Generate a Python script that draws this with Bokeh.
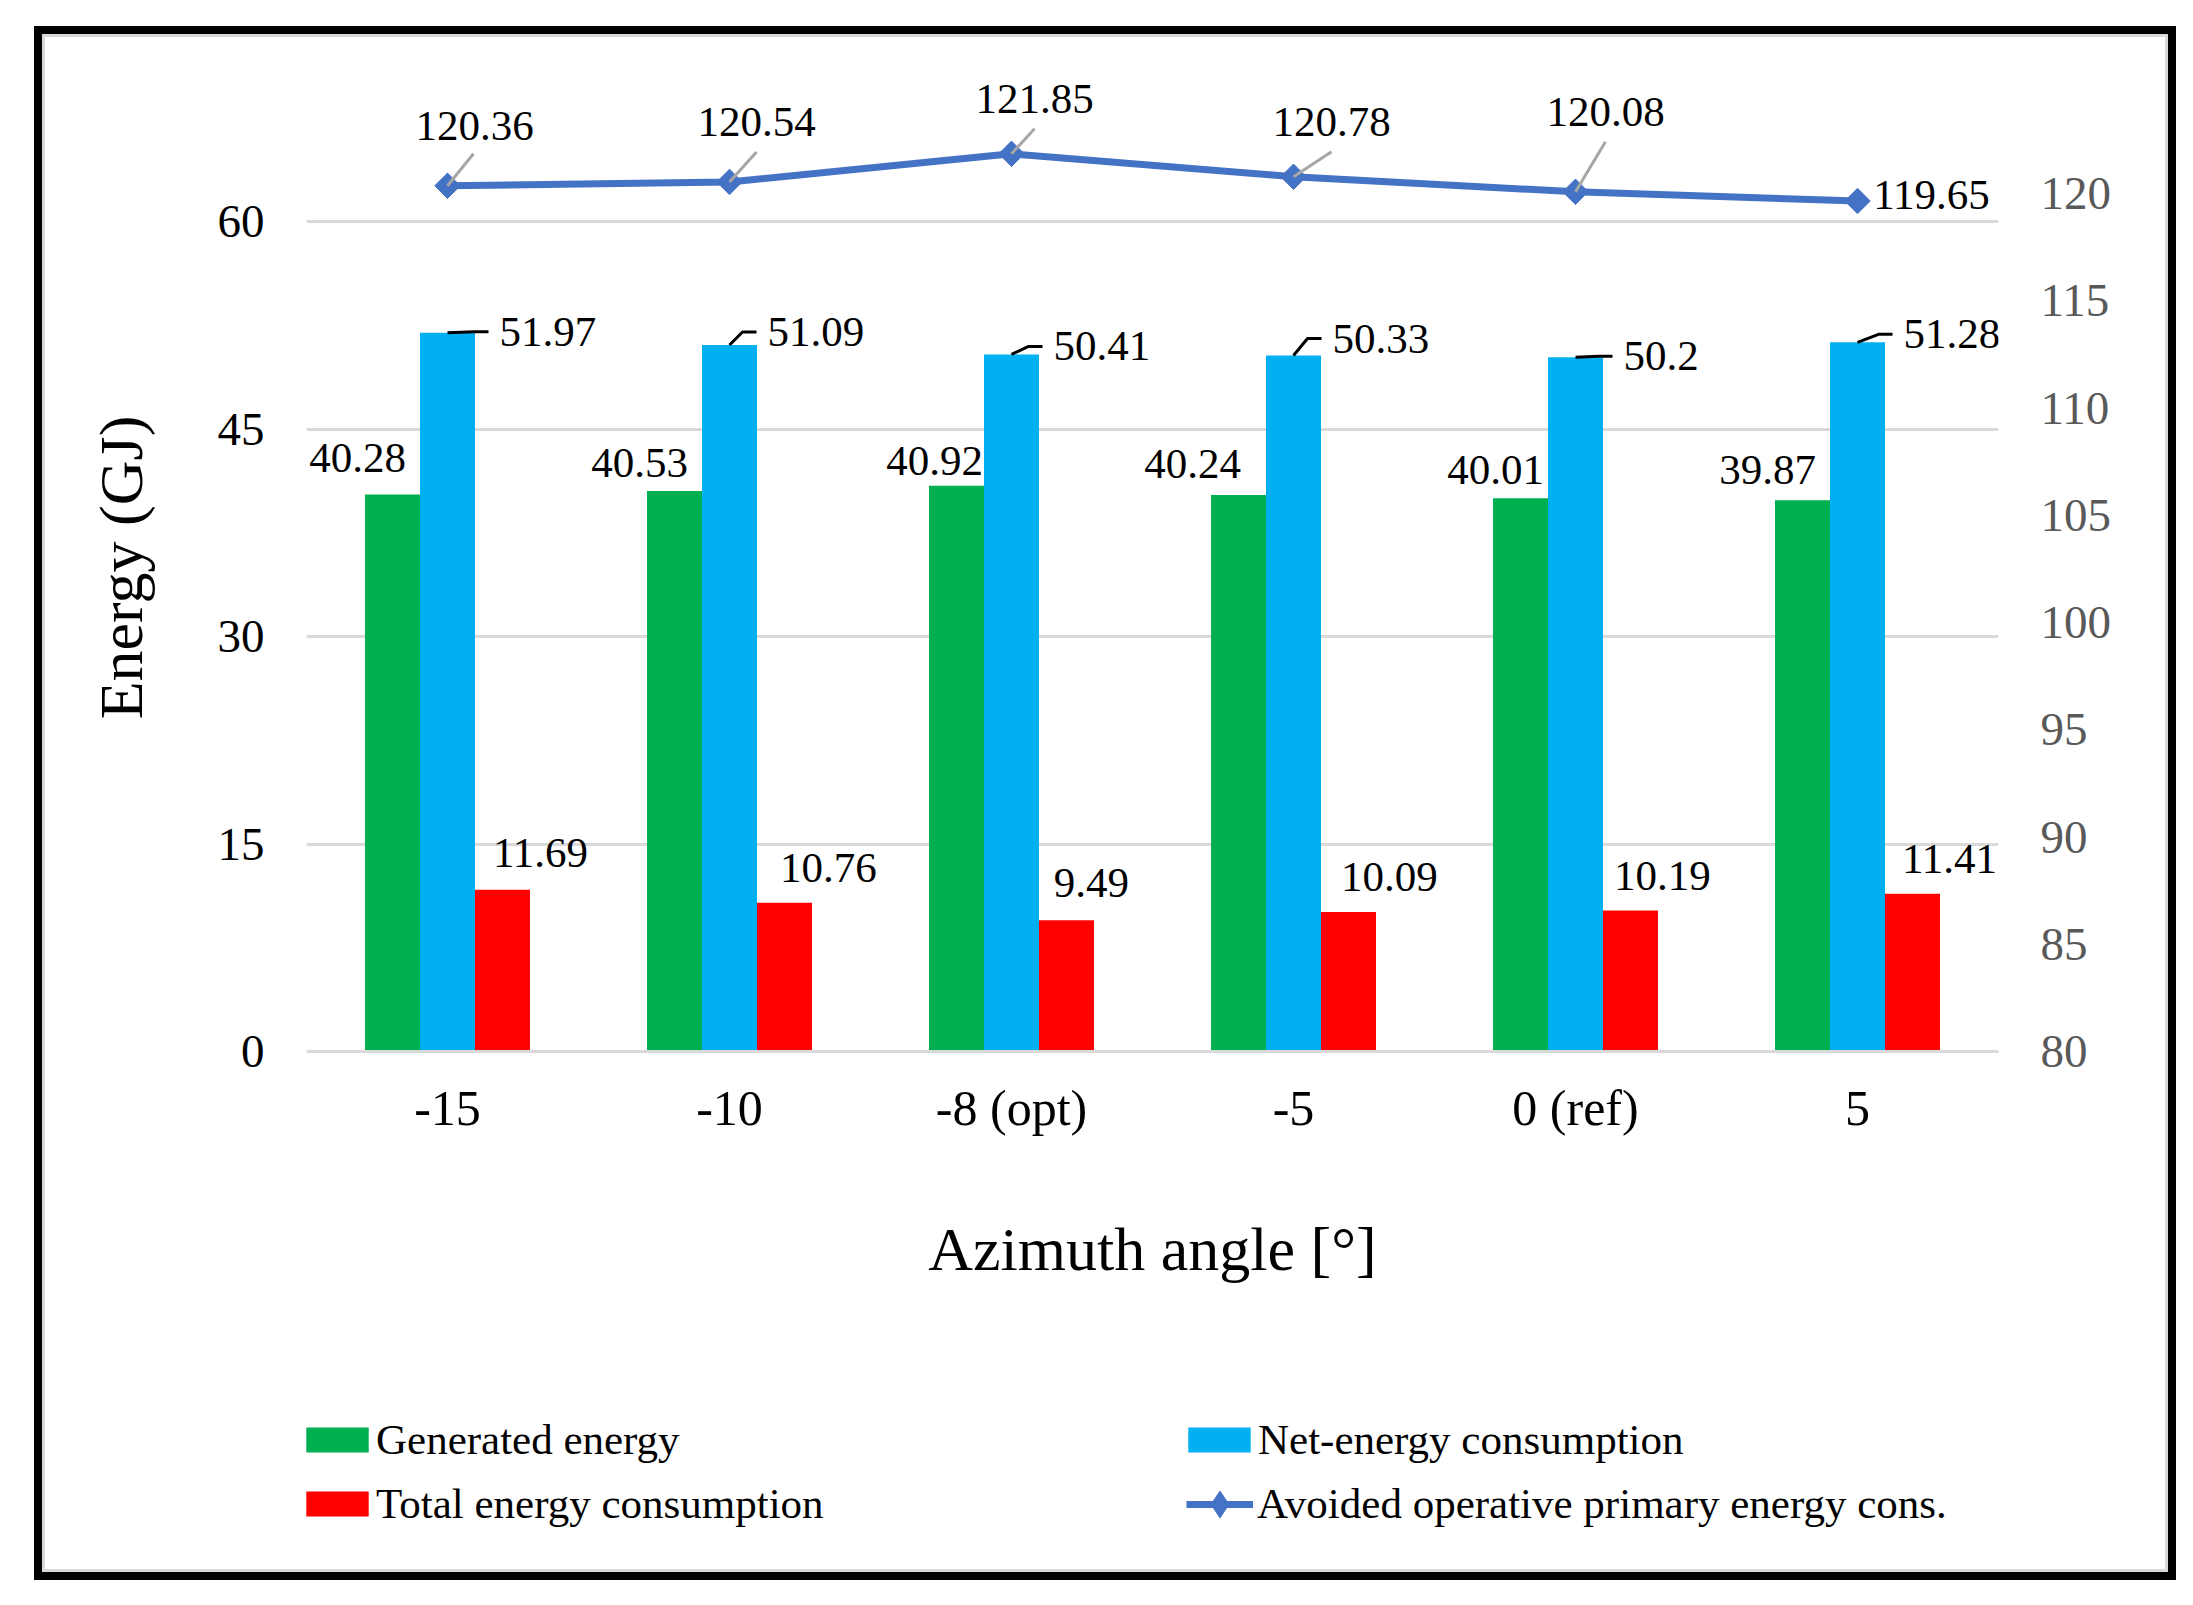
import numpy as np
from bokeh.plotting import figure
from bokeh.layouts import column
from bokeh.models import (ColumnDataSource, Range1d, LinearAxis, FixedTicker, LabelSet,
                          Legend, LegendItem)
from bokeh.embed import file_html
from bokeh.resources import INLINE

# ---------------- data ----------------
categories = ["-15", "-10", "-8 (opt)", "-5", "0 (ref)", "5"]
generated = [40.28, 40.53, 40.92, 40.24, 40.01, 39.87]
net_energy = [51.97, 51.09, 50.41, 50.33, 50.20, 51.28]
total_energy = [11.69, 10.76, 9.49, 10.09, 10.19, 11.41]
avoided = [120.36, 120.54, 121.85, 120.78, 120.08, 119.65]
left_ticks = [0, 15, 30, 45, 60]
right_ticks = [80, 85, 90, 95, 100, 105, 110, 115, 120]

# ---------------- layout / style ----------------
FONT = "Liberation Serif"
W = 2142                    # whole chart box, placed at page (34, 26)
H_CHART, H_LEG = 1300, 254
FL, FT = 272, 57            # frame left / top inside the chart canvas
FRAME_W, FRAME_H = 1692, 968
FR, FB = FL + FRAME_W, FT + FRAME_H
N = len(categories)
YL_END = 70
YR_START, YR_PX = 80, 21.45
YR_END = YR_START + FRAME_H / YR_PX
PX_X = FRAME_W / N
PX_YL = FRAME_H / YL_END
BAR_W = 0.195

GREEN, BLUE, RED, LINE = "#00B050", "#00B0F0", "#FF0000", "#4472C4"


def fmt(v):
    return f"{v:g}"


centers = list(range(N))

p = figure(width=W, height=H_CHART, x_range=Range1d(-0.5, N - 0.5),
           y_range=Range1d(0, YL_END), output_backend="svg", toolbar_location=None,
           min_border_left=FL, min_border_right=W - FR,
           min_border_top=FT, min_border_bottom=H_CHART - FB)
p.extra_y_ranges = {"r": Range1d(YR_START, YR_END)}
p.outline_line_color = None
p.background_fill_color = None
p.border_fill_color = None

# ---- axes ----
p.yaxis.ticker = FixedTicker(ticks=left_ticks)
p.yaxis.axis_line_color = None
p.yaxis.major_tick_line_color = None
p.yaxis.minor_tick_line_color = None
p.yaxis.major_tick_out = 0
p.yaxis.major_label_standoff = 42
p.yaxis.major_label_text_font = FONT
p.yaxis.major_label_text_font_size = "47px"
p.yaxis.major_label_text_color = "black"
p.yaxis.axis_label = "Energy (GJ)"
p.yaxis.axis_label_text_font = FONT
p.yaxis.axis_label_text_font_size = "62px"
p.yaxis.axis_label_text_font_style = "normal"
p.yaxis.axis_label_text_color = "black"
p.yaxis.axis_label_standoff = 60

p.xaxis.ticker = FixedTicker(ticks=centers)
p.xaxis.major_label_overrides = {c: lab for c, lab in zip(centers, categories)}
p.xaxis.axis_line_color = "#D9D9D9"
p.xaxis.axis_line_width = 3
p.xaxis.major_tick_line_color = None
p.xaxis.minor_tick_line_color = None
p.xaxis.major_tick_out = 0
p.xaxis.major_label_standoff = 28
p.xaxis.major_label_text_font = FONT
p.xaxis.major_label_text_font_size = "50px"
p.xaxis.major_label_text_color = "black"
p.xaxis.axis_label = "Azimuth angle [°]"
p.xaxis.axis_label_text_font = FONT
p.xaxis.axis_label_text_font_size = "62px"
p.xaxis.axis_label_text_font_style = "normal"
p.xaxis.axis_label_text_color = "black"
p.xaxis.axis_label_standoff = 76

raxis = LinearAxis(y_range_name="r", ticker=FixedTicker(ticks=right_ticks))
raxis.axis_line_color = None
raxis.major_tick_line_color = None
raxis.minor_tick_line_color = None
raxis.major_tick_out = 0
raxis.major_label_standoff = 42
raxis.major_label_text_font = FONT
raxis.major_label_text_font_size = "47px"
raxis.major_label_text_color = "#595959"
p.add_layout(raxis, "right")

p.xgrid.visible = False
p.ygrid.grid_line_color = "#D9D9D9"
p.ygrid.grid_line_width = 3

# ---- bars ----
src = ColumnDataSource(dict(
    xg=[c - BAR_W for c in centers], xn=centers, xt=[c + BAR_W for c in centers],
    gen=generated, net=net_energy, tot=total_energy, avd=avoided,
))
bar_gen = dict(fill_color=GREEN, line_color=None)
bar_net = dict(fill_color=BLUE, line_color=None)
bar_tot = dict(fill_color=RED, line_color=None)
line_sty = dict(line_color=LINE, line_width=7)

p.vbar(x="xg", top="gen", width=BAR_W, source=src, **bar_gen)
p.vbar(x="xn", top="net", width=BAR_W, source=src, **bar_net)
p.vbar(x="xt", top="tot", width=BAR_W, source=src, **bar_tot)

# ---- line series (right axis) ----
p.line(x="xn", y="avd", source=src, y_range_name="r", **line_sty)
p.scatter(x="xn", y="avd", source=src, y_range_name="r", size=18, marker="square",
          angle=np.pi / 4, fill_color=LINE, line_color=LINE)

# ---- data labels ----
def labels(x, y, vals, xo, yo, align="center", rng="default"):
    s = ColumnDataSource(dict(x=x, y=y, t=[fmt(v) for v in vals], xo=xo, yo=yo))
    p.add_layout(LabelSet(x="x", y="y", text="t", x_offset="xo", y_offset="yo", source=s,
                          y_range_name=rng, text_font=FONT, text_font_size="43px",
                          text_align=align, text_baseline="middle", text_color="black"))

gen_xo = [-35, -35, -22, -46, -25, -35]
gen_yo = [36, 28, 25, 31, 28, 30]
labels(src.data["xg"], generated, generated, gen_xo, gen_yo)

net_xo = [52, 38, 42, 39, 48, 46]
net_yo = [1, 13, 8, 17, 1, 8]
labels(centers, net_energy, net_energy, net_xo, net_yo, align="left")

tot_xo = [38, 44, 25, 41, 32, 37]
tot_yo = [37, 35, 37, 35, 35, 35]
labels(src.data["xt"], total_energy, total_energy, tot_xo, tot_yo)

avd_xo = [27, 27, 23, 38, 30, 74]
avd_yo = [60, 60, 55, 55, 80, 6]
labels(centers, avoided, avoided, avd_xo, avd_yo, rng="r")

# leader lines: net-energy labels (black, bent)
xs, ys = [], []
for c, v, lx, ly in zip(centers, net_energy, net_xo, net_yo):
    yk = v + ly / PX_YL
    xs.append([c, c + (lx - 25) / PX_X, c + (lx - 11) / PX_X])
    ys.append([v, yk, yk])
p.multi_line(xs, ys, line_color="black", line_width=3)

# leader lines: avoided-energy labels (gray)
lead = [(26, 32), (27, 30), (23, 25), (38, 25), (30, 50)]
lx0, ly0, lx1, ly1 = [], [], [], []
for c, v, (dx, dy) in zip(centers, avoided, lead):
    lx0.append(c); ly0.append(v)
    lx1.append(c + dx / PX_X); ly1.append(v + dy / YR_PX)
p.segment(lx0, ly0, lx1, ly1, y_range_name="r", line_color="#A6A6A6", line_width=3)

# ---- legend strip (its own canvas below the chart; frames are aligned) ----
q = figure(width=W, height=H_LEG, x_range=Range1d(-0.5, N - 0.5), y_range=Range1d(0, YL_END),
           output_backend="svg", toolbar_location=None,
           x_axis_location=None, y_axis_location=None,
           min_border_left=FL, min_border_right=W - FR,
           min_border_top=0, min_border_bottom=0)
q.extra_y_ranges = {"r": Range1d(YR_START, YR_END)}
q.grid.visible = False
q.outline_line_color = None
q.background_fill_color = None
q.border_fill_color = None

# the same series, hidden here: they only provide the legend keys
k_gen = q.vbar(x="xg", top="gen", width=BAR_W, source=src, visible=False, **bar_gen)
k_net = q.vbar(x="xn", top="net", width=BAR_W, source=src, visible=False, **bar_net)
k_tot = q.vbar(x="xt", top="tot", width=BAR_W, source=src, visible=False, **bar_tot)
k_line = q.line(x="xn", y="avd", source=src, y_range_name="r", visible=False, **line_sty)
k_mark = q.scatter(x="xn", y="avd", source=src, y_range_name="r", size=18, visible=False,
                   marker="diamond", fill_color=LINE, line_color=LINE)


def add_legend(items, loc, gw, gh, standoff):
    q.add_layout(Legend(items=items, location=loc, orientation="vertical",
                        glyph_width=gw, glyph_height=gh, label_standoff=standoff,
                        label_height=50, spacing=14, padding=0, margin=0,
                        label_text_font=FONT, label_text_font_size="43px",
                        label_text_color="black", inactive_fill_alpha=0,
                        border_line_color=None, background_fill_alpha=0))

add_legend([LegendItem(label="Generated energy", renderers=[k_gen]),
            LegendItem(label="Total energy consumption", renderers=[k_tot])],
           (-8, 51.5), 78, 31, 0)
add_legend([LegendItem(label="Net-energy consumption", renderers=[k_net])],
           (874, 115.5), 78, 31, 0)
add_legend([LegendItem(label="Avoided operative primary energy cons.",
                       renderers=[k_line, k_mark])],
           (880, 42.5), 67, 68, 4)

layout = column(p, q, spacing=0)
layout.margin = (26, 0, 0, 34)
layout.styles = {"outline": "8px solid black", "outline-offset": "-8px",
                 "box-shadow": "inset 0 0 0 11px #D9D9D9"}

open("out.html", "w").write(file_html(layout, INLINE))
